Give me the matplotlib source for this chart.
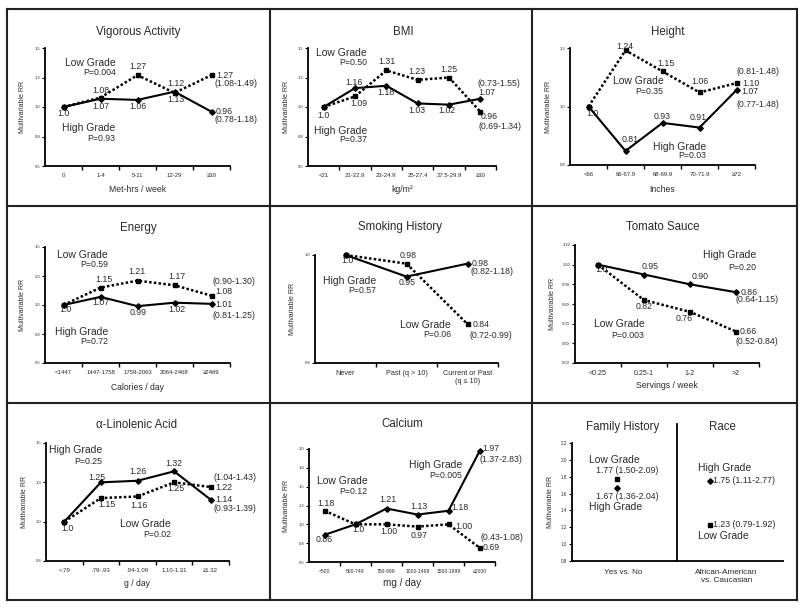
"""
Multivariable RR by tumour grade, nine exposure panels
"""

import matplotlib
matplotlib.use('Agg')
import matplotlib.pyplot as plt
from matplotlib.lines import Line2D
from matplotlib.transforms import offset_copy
import numpy as np

plt.rcParams['font.family'] = ['Liberation Sans', 'DejaVu Sans']

W, H = 800, 608
TXT = '#2a2a2a'

# Vigorous activity
vig_cats = ['0', '1-4', '5-11', '12-29', '\u226530']
vig_low = [1.0, 1.08, 1.27, 1.12, 1.27]
vig_high = [1.0, 1.07, 1.06, 1.13, 0.96]

# BMI
bmi_cats = ['<21', '21-22.9', '23-24.9', '25-27.4', '27.5-29.9', '\u226530']
bmi_low = [1.0, 1.09, 1.31, 1.23, 1.25, 0.96]
bmi_high = [1.0, 1.16, 1.18, 1.03, 1.02, 1.07]

# Height
ht_cats = ['<66', '66-67.9', '68-69.9', '70-71.9', '\u226572']
ht_low = [1.0, 1.24, 1.15, 1.06, 1.10]
ht_high = [1.0, 0.81, 0.93, 0.91, 1.07]

# Energy
en_cats = ['<1447', '1447-1758', '1759-2063', '2064-2468', '\u22652469']
en_low = [1.0, 1.15, 1.21, 1.17, 1.08]
en_high = [1.0, 1.07, 0.99, 1.02, 1.01]

# Smoking history
sm_cats = ['Never', 'Past (q > 10)', 'Current or Past\n(q \u2264 10)']
sm_low = [1.0, 0.98, 0.84]
sm_high = [1.0, 0.95, 0.98]

# Tomato sauce
tom_cats = ['<0.25', '0.25-1', '1-2', '>2']
tom_low = [1.0, 0.82, 0.76, 0.66]
tom_high = [1.0, 0.95, 0.90, 0.86]

# alpha-linolenic acid
ala_cats = ['<.79', '.79-.93', '.94-1.09', '1.10-1.31', '\u22651.32']
ala_low = [1.0, 1.15, 1.16, 1.25, 1.22]
ala_high = [1.0, 1.25, 1.26, 1.32, 1.14]

# Calcium
ca_cats = ['<500', '500-749', '750-999', '1000-1499', '1500-1999', '\u22652000']
ca_low = [1.18, 1.0, 1.00, 0.97, 1.00, 0.69]
ca_high = [0.86, 1.0, 1.21, 1.13, 1.18, 1.97]

# Family history and race
fr_cats = ['Yes vs. No', 'African-American\nvs. Caucasian']
fr_low = [1.77, 1.23]
fr_high = [1.67, 1.75]


def make_axes(fig, left, top, right, bottom):
    # axes from pixel box (origin top-left)
    return fig.add_axes([left / W, 1 - bottom / H,
                         (right - left) / W, (bottom - top) / H])


def style_axes(ax, cats, ylim, yticks, yticklabels, xlabel, xdrop,
               xfs=4.3, labfs=6.2, ytfs=3.0, boundary_ticks=True):
    n = len(cats)
    for side in ['top', 'right']:
        ax.spines[side].set_visible(False)
    for side in ['left', 'bottom']:
        ax.spines[side].set_linewidth(1.3)
        ax.spines[side].set_color('black')
    ax.set_xlim(-0.5, n - 0.5)
    ax.set_ylim(*ylim)
    ax.set_xticks(range(n))
    ax.set_xticklabels(cats, fontsize=xfs, color=TXT)
    ax.tick_params(axis='x', which='major', length=0, pad=5)
    if boundary_ticks:
        ax.set_xticks(np.arange(0.5, n, 1), minor=True)
        ax.tick_params(axis='x', which='minor', length=3, width=1,
                       direction='out')
    ax.set_yticks(yticks)
    ax.set_yticklabels(yticklabels, fontsize=ytfs, color=TXT)
    ax.tick_params(axis='y', length=2, width=0.8, pad=1.5)
    fig = ax.figure
    ax.text(0, 0.5, 'Multivariable RR', rotation=90, ha='center',
            va='center', fontsize=5, color=TXT,
            transform=offset_copy(ax.transAxes, fig, x=-22, y=0,
                                  units='dots'))
    if xlabel:
        ax.text(0.5, 0, xlabel, ha='center', va='center', fontsize=labfs,
                color=TXT,
                transform=offset_copy(ax.transAxes, fig, x=0, y=-xdrop,
                                      units='dots'))


def draw_lines(ax, low, high, joined=True):
    x = range(len(low))
    ax.plot(x, low, color='black', lw=1.8,
            linestyle=(0, (1, 0.9)) if joined else 'none',
            marker='s', ms=3.0, zorder=3, clip_on=False)
    ax.plot(x, high, color='black', lw=1.5,
            linestyle='-' if joined else 'none',
            marker='D', ms=2.8, zorder=4, clip_on=False)


def value_labels(ax, low, high, spec):
    for series, i, text, dx, dy, *rest in spec:
        ha = rest[0] if rest else 'center'
        y = low[i] if series == 'L' else high[i]
        ax.annotate(text, (i, y), xytext=(dx, dy),
                    textcoords='offset pixels', ha=ha, va='center',
                    fontsize=6.3, color=TXT, annotation_clip=False)


def grade_label(ax, x, y, name, p, py):
    ax.text(x, y, name, ha='right', va='center', fontsize=7.5, color=TXT)
    ax.text(x, py, p, ha='right', va='center', fontsize=6.3, color=TXT)


def title(fig, x, y, text):
    fig.text(x / W, 1 - y / H, text, ha='center', va='center',
             fontsize=8.3, color=TXT)


tk5 = [0.5, 0.75, 1.0, 1.25, 1.5]
tl5 = ['0.5', '0.8', '1.0', '1.3', '1.5']


def main():
    fig = plt.figure(figsize=(W / 100, H / 100), dpi=100)

    # panel frame
    for x in [7, 270, 532, 797]:
        fig.add_artist(Line2D([x / W, x / W], [1 - 9 / H, 1 - 600 / H],
                              color='#222222', lw=1.5))
    for y in [9, 206, 403, 600]:
        fig.add_artist(Line2D([7 / W, 797 / W], [1 - y / H, 1 - y / H],
                              color='#222222', lw=1.5))

    # Vigorous activity
    ax = make_axes(fig, 45, 48, 230, 166)
    style_axes(ax, vig_cats, (0.5, 1.5), tk5, tl5, 'Met-hrs / week', 24)
    draw_lines(ax, vig_low, vig_high)
    value_labels(ax, vig_low, vig_high, [
        ('H', 0, '1.0', 0, -6.7), ('L', 1, '1.08', 0, 7.3),
        ('H', 1, '1.07', 0, -7.7), ('L', 2, '1.27', 0.7, 9),
        ('H', 2, '1.06', 0, -7), ('L', 3, '1.12', 1.7, 9.3),
        ('H', 3, '1.13', 1.7, -8), ('L', 4, '1.27', 4.3, 0, 'left'),
        ('L', 4, '(1.08-1.49)', 3.3, -8.3, 'left'),
        ('H', 4, '0.96', 4.3, 0, 'left'),
        ('H', 4, '(0.78-1.18)', 3.3, -7.7, 'left')])
    grade_label(ax, 1.41, 1.377, 'Low Grade', 'P=0.004', 1.291)
    grade_label(ax, 1.41, 0.82, 'High Grade', 'P=0.93', 0.729)
    title(fig, 138, 32, 'Vigorous Activity')

    # BMI
    ax = make_axes(fig, 308, 48, 496, 166)
    style_axes(ax, bmi_cats, (0.5, 1.5), tk5, tl5, 'kg/m\u00b2', 23)
    draw_lines(ax, bmi_low, bmi_high)
    value_labels(ax, bmi_low, bmi_high, [
        ('H', 0, '1.0', 0, -8.3), ('H', 1, '1.16', -1, 6),
        ('L', 1, '1.09', 3.7, -7), ('L', 2, '1.31', 1, 8.7),
        ('H', 2, '1.18', 0, -7), ('L', 3, '1.23', -1.3, 8.3),
        ('H', 3, '1.03', -1.3, -7), ('L', 4, '1.25', -0.3, 8.3),
        ('H', 4, '1.02', -1.7, -5.7), ('H', 5, '1.07', -2.3, 6, 'left'),
        ('H', 5, '(0.73-1.55)', -3, 15.5, 'left'),
        ('L', 5, '0.96', 0.3, -4.7, 'left'),
        ('L', 5, '(0.69-1.34)', -2.3, -14.7, 'left')])
    grade_label(ax, 1.38, 1.457, 'Low Grade', 'P=0.50', 1.38)
    grade_label(ax, 1.38, 0.80, 'High Grade', 'P=0.37', 0.723)
    title(fig, 403, 32, 'BMI')

    # Height
    ax = make_axes(fig, 570, 48, 755, 165)
    style_axes(ax, ht_cats, (0.75, 1.25), [0.75, 1.0, 1.25],
               ['0.8', '1.0', '1.3'], 'Inches', 25)
    draw_lines(ax, ht_low, ht_high)
    value_labels(ax, ht_low, ht_high, [
        ('H', 0, '1.0', 4.3, -6.7), ('L', 1, '1.24', -1, 4),
        ('L', 2, '1.15', 3, 8), ('L', 3, '1.06', 0, 10.7),
        ('L', 4, '1.10', 5.3, 0, 'left'),
        ('L', 4, '(0.81-1.48)', 0.3, 12, 'left'),
        ('H', 4, '1.07', 4.3, -1.7, 'left'),
        ('H', 4, '(0.77-1.48)', 0.3, -14, 'left'),
        ('H', 1, '0.81', 4.7, 11.7), ('H', 2, '0.93', 0, 6),
        ('H', 3, '0.91', -1.7, 10.3)])
    grade_label(ax, 2.03, 1.11, 'Low Grade', 'P=0.35', 1.064)
    grade_label(ax, 3.17, 0.829, 'High Grade', 'P=0.03', 0.789)
    title(fig, 668, 32, 'Height')

    # Energy
    ax = make_axes(fig, 45, 247, 230, 363)
    style_axes(ax, en_cats, (0.5, 1.5), tk5, tl5, 'Calories / day', 25)
    draw_lines(ax, en_low, en_high)
    value_labels(ax, en_low, en_high, [
        ('H', 0, '1.0', 1.7, -5), ('L', 1, '1.15', 3.3, 8.3),
        ('H', 1, '1.07', 0, -5.3), ('L', 2, '1.21', -0.7, 9),
        ('H', 2, '0.99', 0.7, -6.7), ('L', 3, '1.17', 2, 9),
        ('H', 3, '1.02', 2, -7),
        ('L', 4, '(0.90-1.30)', 1, 14, 'left'),
        ('L', 4, '1.08', 3.3, 4.3, 'left'),
        ('H', 4, '1.01', 3.3, -1, 'left'),
        ('H', 4, '(0.81-1.25)', 1, -11.7, 'left')])
    grade_label(ax, 1.2, 1.429, 'Low Grade', 'P=0.59', 1.351)
    grade_label(ax, 1.2, 0.771, 'High Grade', 'P=0.72', 0.686)
    title(fig, 138, 228, 'Energy')

    # Smoking history
    ax = make_axes(fig, 315, 255, 498, 363)
    style_axes(ax, sm_cats, (0.75, 1.0), [0.75, 1.0], ['0.8', '1.0'],
               None, 0, xfs=5.2)
    draw_lines(ax, sm_low, sm_high)
    value_labels(ax, sm_low, sm_high, [
        ('H', 0, '1.0', 2.3, -5.7), ('L', 1, '0.98', 1.7, 8),
        ('H', 1, '0.95', 1, -6),
        ('H', 2, '0.98', 4.3, 0, 'left'),
        ('H', 2, '(0.82-1.18)', 2.7, -8.3, 'left'),
        ('L', 2, '0.84', 5.3, 0, 'left'),
        ('L', 2, '(0.72-0.99)', 2, -11.3, 'left')])
    grade_label(ax, 0.5, 0.94, 'High Grade', 'P=0.57', 0.918)
    grade_label(ax, 1.73, 0.839, 'Low Grade', 'P=0.06', 0.815)
    title(fig, 400, 227, 'Smoking History')

    # Tomato sauce
    ax = make_axes(fig, 575, 245, 759, 363)
    tt = np.arange(0.5, 1.11, 0.1)
    style_axes(ax, tom_cats, (0.5, 1.1), tt, ['%.2f' % t for t in tt],
               'Servings / week', 22, xfs=5.0, labfs=6.3)
    draw_lines(ax, tom_low, tom_high)
    value_labels(ax, tom_low, tom_high, [
        ('H', 0, '1.0', 3.3, -5.3), ('H', 1, '0.95', 5.7, 7.7),
        ('H', 2, '0.90', 10, 7.7), ('H', 3, '0.86', 5, 0, 'left'),
        ('H', 3, '(0.64-1.15)', 0, -7.7, 'left'),
        ('L', 1, '0.82', 0, -6), ('L', 2, '0.76', -5.7, -7),
        ('L', 3, '0.66', 4, 0, 'left'),
        ('L', 3, '(0.52-0.84)', -0.7, -9.7, 'left')])
    grade_label(ax, 3.44, 1.049, 'High Grade', 'P=0.20', 0.986)
    grade_label(ax, 1.01, 0.698, 'Low Grade', 'P=0.003', 0.639)
    title(fig, 663, 227, 'Tomato Sauce')

    # alpha-linolenic acid
    ax = make_axes(fig, 46, 443, 229, 561)
    style_axes(ax, ala_cats, (0.75, 1.5), [0.75, 1.0, 1.25, 1.5],
               ['0.8', '1.0', '1.3', '1.5'], 'g / day', 22)
    draw_lines(ax, ala_low, ala_high)
    value_labels(ax, ala_low, ala_high, [
        ('H', 0, '1.0', 2.7, -7.3), ('H', 1, '1.25', -4, 5),
        ('L', 1, '1.15', 6, -6.7), ('H', 2, '1.26', 0, 9),
        ('L', 2, '1.16', 1, -8.7), ('H', 3, '1.32', 0, 8),
        ('L', 3, '1.25', 1.7, -6),
        ('L', 4, '(1.04-1.43)', 2.7, 9.3, 'left'),
        ('L', 4, '1.22', 5, 0, 'left'),
        ('H', 4, '1.14', 5, 0, 'left'),
        ('H', 4, '(0.93-1.39)', 2.7, -9.3, 'left')])
    grade_label(ax, 1.05, 1.453, 'High Grade', 'P=0.25', 1.385)
    grade_label(ax, 2.91, 0.987, 'Low Grade', 'P=0.02', 0.919)
    title(fig, 137, 425, '\u03b1-Linolenic Acid')

    # Calcium
    ax = make_axes(fig, 309, 449, 495, 562)
    ct = np.arange(0.5, 2.01, 0.25)
    style_axes(ax, ca_cats, (0.5, 2.0), ct,
               ['0.5', '0.8', '1.0', '1.3', '1.5', '1.8', '2.0'],
               'mg / day', 21, xfs=3.6, labfs=7.2)
    draw_lines(ax, ca_low, ca_high)
    value_labels(ax, ca_low, ca_high, [
        ('L', 0, '1.18', 1.7, 7.7), ('H', 0, '0.86', 0, -5),
        ('H', 1, '1.0', 3.3, -5.3), ('H', 2, '1.21', 1, 8.7),
        ('L', 2, '1.00', 2.3, -7), ('H', 3, '1.13', 1.3, 7.7),
        ('L', 3, '0.97', 1.3, -9), ('H', 4, '1.18', 2.7, 3, 'left'),
        ('L', 4, '1.00', 6.7, -2, 'left'),
        ('H', 5, '1.97', 2.3, 2.3, 'left'),
        ('H', 5, '(1.37-2.83)', 0, -8.3, 'left'),
        ('L', 5, '(0.43-1.08)', 1, 9.7, 'left'),
        ('L', 5, '0.69', 3.3, 0, 'left')])
    grade_label(ax, 1.38, 1.58, 'Low Grade', 'P=0.12', 1.438)
    grade_label(ax, 4.44, 1.783, 'High Grade', 'P=0.005', 1.646)
    title(fig, 402, 424, 'Calcium')

    # Family history and race
    ax = make_axes(fig, 572, 443, 783, 561)
    ft = np.arange(0.8, 2.21, 0.2)
    style_axes(ax, ['', ''], (0.8, 2.2), ft, ['%.1f' % t for t in ft],
               None, 0, ytfs=3.3, boundary_ticks=False)
    ax.set_xlim(-0.49, 1.79)
    ax.set_xticks([0.065, 1.18])
    ax.set_xticklabels(fr_cats, fontsize=5.9, color=TXT)
    ax.tick_params(axis='x', which='major', length=0, pad=6)
    ax.axvline(0.647, ymin=0, ymax=1.16, color='black', lw=1.3,
               clip_on=False)
    draw_lines(ax, fr_low, fr_high, joined=False)
    value_labels(ax, fr_low, fr_high, [
        ('L', 0, '1.77 (1.50-2.09)', -21.3, 8.3, 'left'),
        ('H', 0, '1.67 (1.36-2.04)', -21.3, -9.3, 'left'),
        ('H', 1, '1.75 (1.11-2.77)', 2.7, 0, 'left'),
        ('L', 1, '1.23 (0.79-1.92)', 2.7, 0, 'left')])
    for x, y, name in [(-0.31, 1.995, 'Low Grade'),
                       (-0.31, 1.436, 'High Grade'),
                       (0.874, 1.909, 'High Grade'),
                       (0.874, 1.098, 'Low Grade')]:
        ax.text(x, y, name, ha='left', va='center', fontsize=7.5, color=TXT)
    title(fig, 623, 427, 'Family History')
    title(fig, 722, 427, 'Race')

    fig.savefig('out.png', dpi=100, facecolor='white')


if __name__ == '__main__':
    main()
